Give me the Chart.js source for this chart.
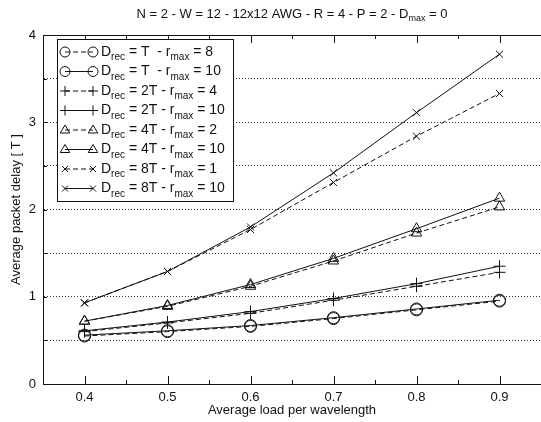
<!DOCTYPE html>
<html>
<head>
<meta charset="utf-8">
<script src="https://cdn.jsdelivr.net/npm/chart.js@4"></script>
<style>
  html, body { margin: 0; padding: 0; background: #fff; overflow: hidden; }
  #wrap { width: 548px; height: 422px; }
</style>
</head>
<body>
<div id="wrap"><canvas id="chart" width="548" height="422"></canvas></div>
<script>
// carga media por longitud de onda (eje x)
const loads = [0.4, 0.5, 0.6, 0.7, 0.8, 0.9];

// retardo medio de paquete [T] por cada configuración
const delayT_r8   = [0.55, 0.60, 0.66, 0.75, 0.85, 0.95];
const delayT_r10  = [0.56, 0.61, 0.67, 0.76, 0.86, 0.96];
const delay2T_r4  = [0.60, 0.70, 0.81, 0.96, 1.12, 1.28];
const delay2T_r10 = [0.61, 0.71, 0.83, 0.98, 1.15, 1.35];
const delay4T_r2  = [0.72, 0.89, 1.12, 1.41, 1.73, 2.03];
const delay4T_r10 = [0.72, 0.90, 1.14, 1.44, 1.78, 2.13];
const delay8T_r1  = [0.93, 1.29, 1.77, 2.31, 2.84, 3.33];
const delay8T_r10 = [0.93, 1.29, 1.80, 2.42, 3.11, 3.78];

// textos de la leyenda
const recLabels  = ['T ', 'T ', '2T', '2T', '4T', '4T', '8T', '8T'];
const rmaxLabels = ['8', '10', '4', '10', '2', '10', '1', '10'];

const yTicks = [0, 1, 2, 3, 4];
const xTickLabels = ['0.4', '0.5', '0.6', '0.7', '0.8', '0.9'];

const INK = '#111';
const FONT = '"Liberation Sans", Arial, sans-serif';

function serie(data, style, dashed, radius) {
    return {
        data: loads.map((x, i) => ({ x: x, y: data[i] })),
        borderColor: INK,
        borderWidth: 1,
        borderDash: dashed ? [5, 3] : [],
        pointStyle: style,
        pointRadius: radius,
        pointBorderColor: INK,
        pointBackgroundColor: 'rgba(0,0,0,0)',
        pointBorderWidth: 1,
        tension: 0
    };
}

const datasets = [
    serie(delayT_r8, 'circle', true, 6),
    serie(delayT_r10, 'circle', false, 6),
    serie(delay2T_r4, 'cross', true, 6),
    serie(delay2T_r10, 'cross', false, 6),
    serie(delay4T_r2, 'triangle', true, 6),
    serie(delay4T_r10, 'triangle', false, 6),
    serie(delay8T_r1, 'crossRot', true, 5),
    serie(delay8T_r10, 'crossRot', false, 5)
];

// dibuja texto con subíndices: parts = [[texto, esSub], ...]
function richText(ctx, parts, x, y, size, align) {
    const subSize = Math.round(size * 0.72);
    let total = 0;
    parts.forEach(p => {
        ctx.font = (p[1] ? subSize : size) + 'px ' + FONT;
        total += ctx.measureText(p[0]).width;
    });
    let cx = align === 'center' ? x - total / 2 : x;
    ctx.textAlign = 'left';
    ctx.textBaseline = 'middle';
    parts.forEach(p => {
        ctx.font = (p[1] ? subSize : size) + 'px ' + FONT;
        ctx.fillText(p[0], cx, p[1] ? y + size * 0.38 : y);
        cx += ctx.measureText(p[0]).width;
    });
}

function mark(ctx, style, r, x, y) {
    ctx.beginPath();
    if (style === 'circle') {
        ctx.arc(x, y, r, 0, Math.PI * 2);
    } else if (style === 'cross') {
        ctx.moveTo(x - r, y); ctx.lineTo(x + r, y);
        ctx.moveTo(x, y - r); ctx.lineTo(x, y + r);
    } else if (style === 'crossRot') {
        const d = r * 0.75;
        ctx.moveTo(x - d, y - d); ctx.lineTo(x + d, y + d);
        ctx.moveTo(x - d, y + d); ctx.lineTo(x + d, y - d);
    } else if (style === 'triangle') {
        ctx.moveTo(x, y - r);
        ctx.lineTo(x + r * 0.95, y + r * 0.6);
        ctx.lineTo(x - r * 0.95, y + r * 0.6);
        ctx.closePath();
    }
    ctx.stroke();
}

const decorPlugin = {
    id: 'decor',
    afterDraw(chart) {
        const { ctx, chartArea: a, scales } = chart;
        const x = scales.x, y = scales.y;
        ctx.save();
        ctx.strokeStyle = INK;
        ctx.fillStyle = INK;
        ctx.lineWidth = 1;
        ctx.setLineDash([]);

        // marco superior
        ctx.beginPath();
        ctx.moveTo(a.left, Math.round(a.top) + 0.5);
        ctx.lineTo(a.right, Math.round(a.top) + 0.5);
        ctx.stroke();

        // marcas del eje x hacia dentro (abajo y arriba)
        x.ticks.forEach(t => {
            const px = Math.round(x.getPixelForValue(t.value)) + 0.5;
            const major = Math.round(t.value * 100) % 10 === 0;
            const len = major ? 8 : 4;
            ctx.beginPath();
            ctx.moveTo(px, a.bottom); ctx.lineTo(px, a.bottom - len);
            ctx.moveTo(px, a.top); ctx.lineTo(px, a.top + len);
            ctx.stroke();
        });
        // marcas del eje y
        y.ticks.forEach(t => {
            const py = Math.round(y.getPixelForValue(t.value)) + 0.5;
            ctx.beginPath();
            ctx.moveTo(a.left, py); ctx.lineTo(a.left + 4, py);
            ctx.stroke();
        });

        // título
        richText(ctx, [['N = 2 - W = 12 - 12x12 AWG - R = 4 - P = 2 - D', false], ['max', true], [' = 0', false]],
            (a.left + a.right) / 2, 14, 13, 'center');

        // títulos de ejes
        ctx.font = '13px ' + FONT;
        ctx.textAlign = 'center';
        ctx.textBaseline = 'middle';
        ctx.fillText('Average load per wavelength', (a.left + a.right) / 2, 410);
        ctx.save();
        ctx.translate(16, (a.top + a.bottom) / 2);
        ctx.rotate(-Math.PI / 2);
        ctx.fillText('Average packet delay [ T ]', 0, 0);
        ctx.restore();

        // leyenda
        const lx = 57, ly = 39, lw = 176, rowH = 19.5;
        const lh = rowH * datasets.length + 6;
        ctx.fillStyle = '#fff';
        ctx.fillRect(lx, ly, lw, lh);
        ctx.strokeStyle = INK;
        ctx.strokeRect(lx + 0.5, ly + 0.5, lw, lh);
        chart.data.datasets.forEach((ds, i) => {
            const cy = ly + 13 + i * rowH;
            ctx.strokeStyle = INK;
            ctx.lineWidth = 1;
            ctx.setLineDash(ds.borderDash);
            ctx.beginPath();
            ctx.moveTo(65, cy); ctx.lineTo(93, cy);
            ctx.stroke();
            ctx.setLineDash([]);
            const r = ds.pointRadius - 1;
            mark(ctx, ds.pointStyle, r, 65, cy);
            mark(ctx, ds.pointStyle, r, 93, cy);
            ctx.fillStyle = INK;
            richText(ctx, [['D', false], ['rec', true], [' = ' + recLabels[i] + ' - r', false], ['max', true], [' = ' + rmaxLabels[i], false]],
                101, cy, 14, 'left');
        });
        ctx.restore();
    }
};

new Chart(document.getElementById('chart'), {
    type: 'line',
    data: { datasets: datasets },
    options: {
        responsive: false,
        animation: false,
        events: [],
        layout: { padding: { left: 0, top: 35, right: 3, bottom: 0 } },
        plugins: { legend: { display: false }, tooltip: { enabled: false }, title: { display: false } },
        scales: {
            x: {
                type: 'linear',
                min: 0.35,
                max: 0.95,
                afterBuildTicks(scale) {
                    const ticks = [];
                    for (let k = 7; k <= 19; k++) ticks.push({ value: k * 0.05 });
                    scale.ticks = ticks;
                },
                afterFit(scale) { scale.height = 38; },
                grid: { display: false, drawTicks: false },
                border: { display: true, color: INK, width: 1 },
                ticks: {
                    padding: 6,
                    color: INK,
                    maxRotation: 0,
                    autoSkip: false,
                    font: { family: FONT, size: 13 },
                    callback(v) {
                        const s = (Math.round(v * 100) / 100).toFixed(2);
                        const lbl = s.replace(/0$/, '');
                        return xTickLabels.includes(lbl) ? lbl : '';
                    }
                }
            },
            y: {
                min: 0,
                max: 4,
                afterFit(scale) { scale.width = 43; },
                ticks: {
                    stepSize: 0.5,
                    padding: 7,
                    color: INK,
                    font: { family: FONT, size: 13 },
                    callback(v) { return yTicks.includes(v) ? String(v) : ''; }
                },
                grid: {
                    drawTicks: false,
                    color(c) { return (c.tick.value === 0 || c.tick.value === 4) ? 'rgba(0,0,0,0)' : '#333'; },
                    lineWidth: 1
                },
                border: { display: true, color: INK, width: 1, dash: [1, 2] }
            }
        }
    },
    plugins: [decorPlugin]
});
</script>
</body>
</html>
